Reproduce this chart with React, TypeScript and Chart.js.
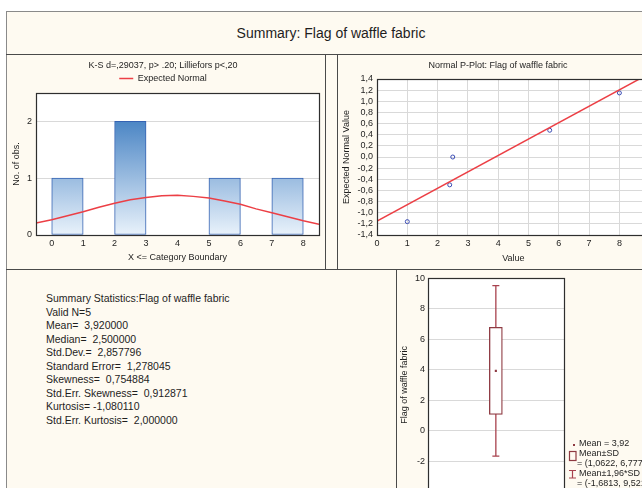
import React, { useEffect, useRef } from 'react';
import { Chart, registerables } from 'chart.js';

Chart.register(...registerables);

const FONT = '"Liberation Sans", Arial, Helvetica, sans-serif';

// ---------- data ----------
const mainTitle = 'Summary: Flag of waffle fabric';

// histogram
const histTitle = 'K-S d=,29037, p> .20; Lilliefors p<,20';
const histLegend = 'Expected Normal';
const histXLabel = 'X <= Category Boundary';
const histYLabel = 'No. of obs.';
const binStarts = [0, 1, 2, 3, 4, 5, 6, 7];
const binCounts = [1, 0, 2, 0, 0, 1, 0, 1];
const histXTicks = [0, 1, 2, 3, 4, 5, 6, 7, 8];
const histYTicks = [0, 1, 2];
const normalX = [-0.5, 0, 0.5, 1, 1.5, 2, 2.5, 3, 3.5, 4, 4.5, 5, 5.5, 6, 6.5, 7, 7.5, 8, 8.5];
const normalY = [0.21, 0.27, 0.34, 0.41, 0.49, 0.56, 0.62, 0.66, 0.69, 0.7, 0.68, 0.65, 0.6, 0.54, 0.46, 0.39, 0.32, 0.25, 0.19];

// normal probability plot
const ppTitle = 'Normal P-Plot: Flag of waffle fabric';
const ppXLabel = 'Value';
const ppYLabel = 'Expected Normal Value';
const ppValues = [1.0, 2.4, 2.5, 5.7, 8.0];
const ppExpected = [-1.16, -0.5, 0.0, 0.48, 1.15];
const ppLineX = [0, 9];
const ppLineY = [-1.15, 1.5];
const ppXTicks = [0, 1, 2, 3, 4, 5, 6, 7, 8, 9];
const ppYTicks = [-1.4, -1.2, -1.0, -0.8, -0.6, -0.4, -0.2, 0, 0.2, 0.4, 0.6, 0.8, 1.0, 1.2, 1.4];

// box plot
const boxYLabel = 'Flag of waffle fabric';
const boxMean = 3.92;
const boxSdLow = 1.0622;
const boxSdHigh = 6.7778;
const whiskerLow = -1.6813;
const whiskerHigh = 9.5213;
const boxYTicks = [-4, -2, 0, 2, 4, 6, 8, 10];

// summary statistics
const summaryLines = [
  'Summary Statistics:Flag of waffle fabric',
  'Valid N=5',
  'Mean=  3,920000',
  'Median=  2,500000',
  'Std.Dev.=  2,857796',
  'Standard Error=  1,278045',
  'Skewness=  0,754884',
  'Std.Err. Skewness=  0,912871',
  'Kurtosis= -1,080110',
  'Std.Err. Kurtosis=  2,000000',
];

// ---------- styles ----------
const CREAM = '#fefaf1';
const PANEL_LINE = '#4a4a4a';
const GRID = '#d9d9d9';
const TEXT = '#1e1e1e';
const RED = '#ec3f45';
const BLUE_PT = '#3b4db5';
const BAR_BORDER = '#3462b2';
const MAROON = '#8e3a42';
const WHISKER = '#a8424e';

const comma = (v: number, d: number) => {
  const r = Math.abs(v) < 1e-9 ? 0 : v;
  return r.toFixed(d).replace('.', ',');
};

const font9 = { family: FONT, size: 9, weight: 'normal' as const };

const framePlugin = {
  id: 'frame',
  beforeDraw(chart: any) {
    const { ctx, chartArea: a } = chart;
    if (!a) return;
    ctx.save();
    ctx.fillStyle = '#ffffff';
    ctx.fillRect(a.left, a.top, a.right - a.left, a.bottom - a.top);
    ctx.restore();
  },
  afterDraw(chart: any) {
    const { ctx, chartArea: a } = chart;
    if (!a) return;
    ctx.save();
    ctx.strokeStyle = '#2e2e2e';
    ctx.lineWidth = 1.2;
    ctx.strokeRect(Math.round(a.left) + 0.5, Math.round(a.top) + 0.5, Math.round(a.right - a.left), Math.round(a.bottom - a.top));
    ctx.restore();
  },
};

const whiskerPlugin = {
  id: 'whiskers',
  beforeDatasetsDraw(chart: any) {
    const { ctx, scales } = chart;
    const cx = scales.x.getPixelForValue(0);
    const top = scales.y.getPixelForValue(whiskerHigh);
    const bot = scales.y.getPixelForValue(whiskerLow);
    ctx.save();
    ctx.strokeStyle = WHISKER;
    ctx.lineWidth = 1.3;
    ctx.beginPath();
    ctx.moveTo(cx, top);
    ctx.lineTo(cx, bot);
    ctx.moveTo(cx - 3.5, top);
    ctx.lineTo(cx + 3.5, top);
    ctx.moveTo(cx - 3.5, bot);
    ctx.lineTo(cx + 3.5, bot);
    ctx.stroke();
    ctx.restore();
  },
};

const boxLegendPlugin = {
  id: 'boxLegend',
  afterDraw(chart: any) {
    const { ctx, chartArea: a } = chart;
    const x0 = a.right + 5;
    const y0 = 174;
    const row = 10;
    ctx.save();
    ctx.font = `9px ${FONT}`;
    ctx.textBaseline = 'middle';
    ctx.textAlign = 'left';
    ctx.fillStyle = MAROON;
    ctx.fillRect(x0 + 4, y0, 2, 2);
    ctx.strokeStyle = MAROON;
    ctx.lineWidth = 1.2;
    ctx.strokeRect(x0 + 0.5, y0 + row - 2.5, 6.5, 9);
    const ib = y0 + 3 * row - 3.5;
    ctx.strokeStyle = WHISKER;
    ctx.beginPath();
    ctx.moveTo(x0 + 3.5, ib);
    ctx.lineTo(x0 + 3.5, ib + 7.5);
    ctx.moveTo(x0, ib);
    ctx.lineTo(x0 + 7, ib);
    ctx.moveTo(x0, ib + 7.5);
    ctx.lineTo(x0 + 7, ib + 7.5);
    ctx.stroke();
    ctx.fillStyle = TEXT;
    ctx.fillText(`Mean = ${comma(boxMean, 2)}`, x0 + 10, y0);
    ctx.fillText('Mean±SD', x0 + 10, y0 + row);
    ctx.fillText(`= (${comma(boxSdLow, 4)}, ${comma(boxSdHigh, 4)})`, x0 + 8, y0 + 2 * row);
    ctx.fillText('Mean±1,96*SD', x0 + 10, y0 + 3 * row);
    ctx.fillText(`= (${comma(whiskerLow, 4)}, ${comma(whiskerHigh, 4)})`, x0 + 8, y0 + 4 * row);
    ctx.restore();
  },
};

const histFill = (c: any) => {
  const chart = c.chart;
  if (!chart.chartArea || !chart.scales.y) return '#8fb9e2';
  const y = chart.scales.y;
  const g = chart.ctx.createLinearGradient(0, y.getPixelForValue(0), 0, y.getPixelForValue(2));
  g.addColorStop(0, '#e9f2fb');
  g.addColorStop(1, '#4c86c5');
  return g;
};

const hline = (left: number, top: number, width: number, color = PANEL_LINE): React.CSSProperties => ({
  position: 'absolute', left, top, width, height: 1, background: color,
});
const vline = (left: number, top: number, height: number, color = PANEL_LINE): React.CSSProperties => ({
  position: 'absolute', left, top, width: 1, height, background: color,
});

export default function App() {
  const histRef = useRef<HTMLCanvasElement | null>(null);
  const ppRef = useRef<HTMLCanvasElement | null>(null);
  const boxRef = useRef<HTMLCanvasElement | null>(null);

  useEffect(() => {
    Chart.defaults.font.family = FONT;
    Chart.defaults.color = TEXT;

    const hist = new Chart(histRef.current as HTMLCanvasElement, {
      type: 'bar',
      data: {
        datasets: [
          {
            type: 'line',
            label: histLegend,
            data: normalX.map((x, i) => ({ x, y: normalY[i] })),
            borderColor: RED,
            backgroundColor: RED,
            borderWidth: 1.5,
            pointRadius: 0,
            order: 0,
          } as any,
          {
            type: 'bar',
            label: 'obs',
            data: binStarts.map((s, i) => ({ x: s + 0.5, y: binCounts[i] === 0 ? null : binCounts[i] })),
            backgroundColor: histFill,
            borderColor: BAR_BORDER,
            borderWidth: 1,
            borderSkipped: false,
            categoryPercentage: 1,
            barPercentage: 1,
            order: 1,
          } as any,
        ],
      },
      options: {
        animation: false,
        responsive: false,
        events: [],
        layout: { padding: { left: 0, right: 6, top: 0, bottom: 0 } },
        plugins: {
          title: { display: true, text: histTitle, color: TEXT, font: font9, padding: { top: 5.6, bottom: 0.6 } },
          legend: {
            display: true,
            labels: {
              filter: (item: any) => item.datasetIndex === 0,
              usePointStyle: true,
              pointStyle: 'line',
              pointStyleWidth: 14,
              boxHeight: 9,
              padding: 2,
              font: font9,
              color: TEXT,
            },
          },
          tooltip: { enabled: false },
        },
        scales: {
          x: {
            type: 'linear',
            min: -0.5,
            max: 8.5,
            bounds: 'data',
            offset: false,
            afterBuildTicks: (s: any) => { s.ticks = histXTicks.map((v) => ({ value: v })); },
            afterFit: (s: any) => { s.height = 34; },
            grid: { display: false, drawTicks: false },
            border: { display: false },
            ticks: { autoSkip: false, maxRotation: 0, padding: 3.3, font: font9, color: TEXT, callback: (v: any) => String(v) },
            title: { display: true, text: histXLabel, font: font9, color: TEXT, padding: { top: 0, bottom: 5.9 } },
          },
          y: {
            type: 'linear',
            min: 0,
            max: 2.5,
            bounds: 'data',
            afterBuildTicks: (s: any) => { s.ticks = histYTicks.map((v) => ({ value: v })); },
            afterFit: (s: any) => { s.width = 29; },
            grid: { color: GRID, drawTicks: false },
            border: { display: false },
            ticks: { autoSkip: false, padding: 4, font: font9, color: TEXT, callback: (v: any) => String(v) },
            title: { display: true, text: histYLabel, font: font9, color: TEXT, padding: { top: 4.3, bottom: 0 } },
          },
        },
      } as any,
      plugins: [framePlugin],
    });

    const pp = new Chart(ppRef.current as HTMLCanvasElement, {
      type: 'scatter',
      data: {
        datasets: [
          {
            type: 'line',
            label: 'fit',
            data: ppLineX.map((x, i) => ({ x, y: ppLineY[i] })),
            borderColor: RED,
            borderWidth: 1.5,
            pointRadius: 0,
            order: 0,
          } as any,
          {
            type: 'scatter',
            label: 'obs',
            data: ppValues.map((x, i) => ({ x, y: ppExpected[i] })),
            pointStyle: 'circle',
            pointRadius: 2,
            borderColor: BLUE_PT,
            borderWidth: 1,
            backgroundColor: 'rgba(255,255,255,0)',
            order: 1,
          } as any,
        ],
      },
      options: {
        animation: false,
        responsive: false,
        events: [],
        layout: { padding: { left: 8.3, right: 9.3, top: 0, bottom: 0 } },
        plugins: {
          title: { display: true, text: ppTitle, color: TEXT, font: font9, padding: { top: 5.6, bottom: 7.6 } },
          legend: { display: false },
          tooltip: { enabled: false },
        },
        scales: {
          x: {
            type: 'linear',
            min: 0,
            max: 9,
            bounds: 'data',
            afterBuildTicks: (s: any) => { s.ticks = ppXTicks.map((v) => ({ value: v })); },
            afterFit: (s: any) => { s.height = 34; },
            grid: { color: GRID, drawTicks: false },
            border: { display: false },
            ticks: { autoSkip: false, maxRotation: 0, padding: 3.6, font: font9, color: TEXT, callback: (v: any) => String(v) },
            title: { display: true, text: ppXLabel, font: font9, color: TEXT, padding: { top: 0, bottom: 5.3 } },
          },
          y: {
            type: 'linear',
            min: -1.4,
            max: 1.4,
            bounds: 'data',
            afterBuildTicks: (s: any) => { s.ticks = ppYTicks.map((v) => ({ value: v })); },
            afterFit: (s: any) => { s.width = 30.7; },
            grid: { color: GRID, drawTicks: false },
            border: { display: false },
            ticks: { autoSkip: false, padding: 4, font: font9, color: TEXT, callback: (v: any) => comma(Number(v), 1) },
            title: { display: true, text: ppYLabel, font: font9, color: TEXT, padding: { top: -5, bottom: 0 } },
          },
        },
      } as any,
      plugins: [framePlugin],
    });

    const box = new Chart(boxRef.current as HTMLCanvasElement, {
      type: 'bar',
      data: {
        labels: [boxYLabel],
        datasets: [
          {
            type: 'bar',
            label: 'Mean±SD',
            data: [[boxSdLow, boxSdHigh]],
            backgroundColor: '#ffffff',
            borderColor: MAROON,
            borderWidth: 1.3,
            borderSkipped: false,
            barThickness: 13,
            order: 1,
          } as any,
          {
            type: 'line',
            label: 'Mean',
            data: [boxMean],
            pointStyle: 'rect',
            pointRadius: 1.5,
            backgroundColor: MAROON,
            borderColor: MAROON,
            borderWidth: 0,
            showLine: false,
            order: 0,
          } as any,
        ],
      },
      options: {
        animation: false,
        responsive: false,
        events: [],
        layout: { padding: { left: 0, right: 136, top: 8.3, bottom: 8.5 } },
        plugins: {
          legend: { display: false },
          tooltip: { enabled: false },
          title: { display: false },
        },
        scales: {
          x: { type: 'category', display: false, offset: true },
          y: {
            type: 'linear',
            min: -4,
            max: 10,
            bounds: 'data',
            afterBuildTicks: (s: any) => { s.ticks = boxYTicks.map((v) => ({ value: v })); },
            afterFit: (s: any) => { s.width = 30.7; },
            grid: { color: GRID, drawTicks: false },
            border: { display: false },
            ticks: { autoSkip: false, padding: 2.7, font: font9, color: TEXT, callback: (v: any) => String(v) },
            title: { display: true, text: boxYLabel, font: font9, color: TEXT, padding: { top: 2.6, bottom: 0 } },
          },
        },
      } as any,
      plugins: [framePlugin, whiskerPlugin, boxLegendPlugin],
    });

    return () => {
      hist.destroy();
      pp.destroy();
      box.destroy();
    };
  }, []);

  return (
    <div style={{ position: 'fixed', left: 0, top: 0, width: 642, height: 488, overflow: 'hidden', background: '#ffffff', fontFamily: FONT }}>
      <div style={{ position: 'absolute', left: 6, top: 11, width: 720, height: 600, background: CREAM }} />
      <div style={hline(6, 11, 720, '#8a8a8a')} />
      <div style={vline(6, 11, 600, '#8a8a8a')} />
      <div style={{ position: 'absolute', left: 6, top: 11, width: 650, height: 43, display: 'flex', alignItems: 'center', justifyContent: 'center', fontSize: 14, color: TEXT, lineHeight: '16px' }}>
        {mainTitle}
      </div>
      <div style={hline(6, 54, 720)} />
      <canvas ref={histRef} width={318} height={214} style={{ position: 'absolute', left: 7, top: 55, width: 318, height: 214 }} />
      <div style={vline(325, 55, 214)} />
      <div style={vline(337, 55, 214)} />
      <canvas ref={ppRef} width={321} height={214} style={{ position: 'absolute', left: 338, top: 55, width: 321, height: 214 }} />
      <div style={hline(6, 269, 720)} />
      <div style={{ position: 'absolute', left: 46, top: 292, fontSize: 10.5, lineHeight: '13.5px', color: TEXT, whiteSpace: 'pre' }}>
        {summaryLines.map((l, i) => (
          <div key={i}>{l}</div>
        ))}
      </div>
      <div style={vline(396, 270, 330)} />
      <canvas ref={boxRef} width={303} height={230} style={{ position: 'absolute', left: 397, top: 270, width: 303, height: 230 }} />
    </div>
  );
}
